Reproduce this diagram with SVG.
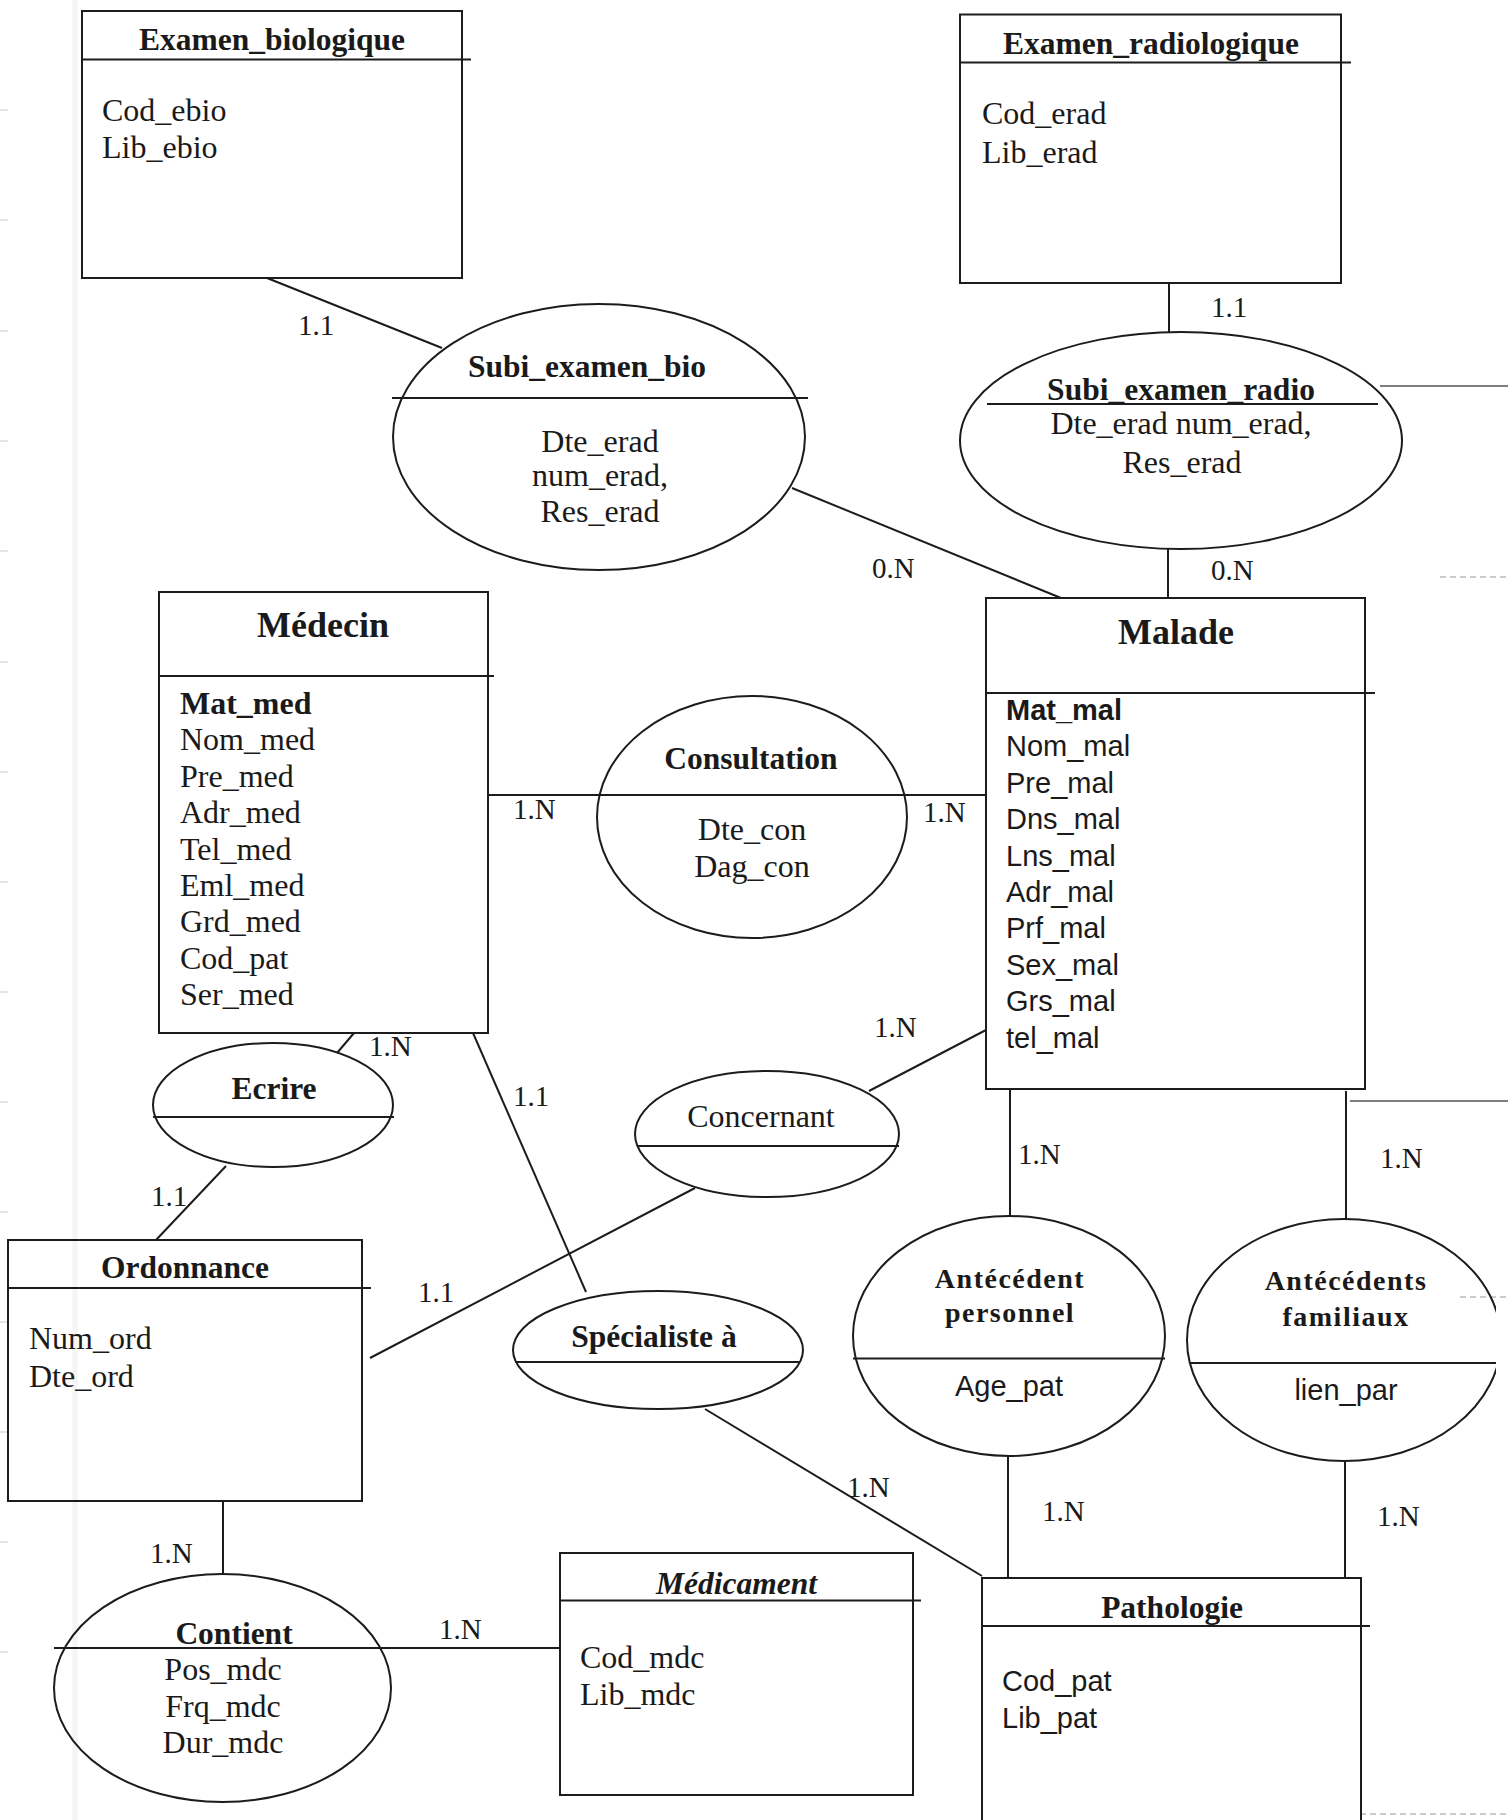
<svg xmlns="http://www.w3.org/2000/svg" width="1508" height="1820" viewBox="0 0 1508 1820">
  <defs>
    <clipPath id="clipRight">
      <rect x="0" y="0" width="1496" height="1820"/>
    </clipPath>
  </defs>
  <style>
    .shape { fill: none; stroke: #1c1c1c; stroke-width: 2; }
    .link { fill: none; stroke: #1c1c1c; stroke-width: 2; }
    .title { font-family: "Liberation Serif", "Times New Roman", serif; font-weight: bold; font-size: 31.5px; fill: #1a1a1a; text-anchor: middle; }
    .big { font-size: 36px; }
    .wide { font-size: 28px; letter-spacing: 1.5px; }
    .attr { font-family: "Liberation Serif", "Times New Roman", serif; font-size: 32px; fill: #1a1a1a; }
    .sans { font-family: "Liberation Sans", Arial, sans-serif; font-size: 29px; fill: #1a1a1a; }
    .mid { text-anchor: middle; }
    .key { font-weight: bold; }
    .card { font-family: "Liberation Serif", "Times New Roman", serif; font-size: 29px; fill: #1a1a1a; }
    .scan { stroke: #555; stroke-width: 1.5; fill: none; }
    .faint { stroke: #bbb; stroke-width: 1.5; stroke-dasharray: 6 4; fill: none; }
  </style>

  <rect x="0" y="0" width="1508" height="1820" fill="#ffffff"/>

  <!-- page edge marks -->
  <g id="page-marks">
    <line x1="75" y1="0" x2="75" y2="1820" stroke="#f6f3f3" stroke-width="5"/>
    <g stroke="#dcdcdc" stroke-width="1.5">
      <line x1="0" y1="110" x2="8" y2="110"/>
      <line x1="0" y1="220" x2="8" y2="220"/>
      <line x1="0" y1="331" x2="8" y2="331"/>
      <line x1="0" y1="441" x2="8" y2="441"/>
      <line x1="0" y1="551" x2="8" y2="551"/>
      <line x1="0" y1="662" x2="8" y2="662"/>
      <line x1="0" y1="772" x2="8" y2="772"/>
      <line x1="0" y1="882" x2="8" y2="882"/>
      <line x1="0" y1="992" x2="8" y2="992"/>
      <line x1="0" y1="1102" x2="8" y2="1102"/>
      <line x1="0" y1="1212" x2="8" y2="1212"/>
      <line x1="0" y1="1322" x2="8" y2="1322"/>
      <line x1="0" y1="1432" x2="8" y2="1432"/>
      <line x1="0" y1="1542" x2="8" y2="1542"/>
      <line x1="0" y1="1652" x2="8" y2="1652"/>
    </g>
    <line class="scan" x1="1380" y1="386" x2="1508" y2="386"/>
    <line class="scan" x1="1350" y1="1101" x2="1508" y2="1101"/>
    <line class="faint" x1="1440" y1="577" x2="1508" y2="577"/>
    <line class="faint" x1="1460" y1="1297" x2="1508" y2="1297"/>
    <line class="faint" x1="1360" y1="1814" x2="1508" y2="1814"/>
  </g>

  <!-- connectors and cardinalities -->
  <g id="connectors">
    <line class="link" x1="267" y1="278" x2="442" y2="348"/>
    <line class="link" x1="792" y1="488" x2="1061" y2="598"/>
    <line class="link" x1="1169" y1="283" x2="1169" y2="332"/>
    <line class="link" x1="1168" y1="549" x2="1168" y2="598"/>
    <line class="link" x1="488" y1="795" x2="986" y2="795"/>
    <line class="link" x1="869" y1="1091" x2="986" y2="1030"/>
    <line class="link" x1="695" y1="1188" x2="370" y2="1358"/>
    <line class="link" x1="354" y1="1033" x2="337" y2="1053"/>
    <line class="link" x1="226" y1="1166" x2="156" y2="1240"/>
    <line class="link" x1="473" y1="1033" x2="586" y2="1292"/>
    <line class="link" x1="705" y1="1409" x2="982" y2="1576"/>
    <line class="link" x1="223" y1="1501" x2="223" y2="1574"/>
    <line class="link" x1="54" y1="1648" x2="560" y2="1648"/>
    <line class="link" x1="1010" y1="1089" x2="1010" y2="1216"/>
    <line class="link" x1="1346" y1="1091" x2="1346" y2="1219"/>
    <line class="link" x1="1008" y1="1456" x2="1008" y2="1578"/>
    <line class="link" x1="1345" y1="1461" x2="1345" y2="1578"/>

    <text class="card" x="298" y="335">1.1</text>
    <text class="card" x="872" y="578">0.N</text>
    <text class="card" x="1211" y="317">1.1</text>
    <text class="card" x="1211" y="580">0.N</text>
    <text class="card" x="513" y="819">1.N</text>
    <text class="card" x="923" y="822">1.N</text>
    <text class="card" x="874" y="1037">1.N</text>
    <text class="card" x="418" y="1302">1.1</text>
    <text class="card" x="369" y="1056">1.N</text>
    <text class="card" x="151" y="1206">1.1</text>
    <text class="card" x="513" y="1106">1.1</text>
    <text class="card" x="847" y="1497">1.N</text>
    <text class="card" x="150" y="1563">1.N</text>
    <text class="card" x="439" y="1639">1.N</text>
    <text class="card" x="1018" y="1164">1.N</text>
    <text class="card" x="1380" y="1168">1.N</text>
    <text class="card" x="1042" y="1521">1.N</text>
    <text class="card" x="1377" y="1526">1.N</text>
  </g>

  <!-- entities -->
  <g id="examen-biologique">
    <rect class="shape" x="82" y="11" width="380" height="267"/>
    <line class="shape" x1="82" y1="59.5" x2="471" y2="59.5"/>
    <text class="title" x="272" y="50">Examen_biologique</text>
    <text class="attr" x="102" y="120.5">Cod_ebio</text>
    <text class="attr" x="102" y="157.7">Lib_ebio</text>
  </g>

  <g id="examen-radiologique">
    <rect class="shape" x="960" y="14.5" width="381" height="268.5"/>
    <line class="shape" x1="960" y1="62.5" x2="1351" y2="62.5"/>
    <text class="title" x="1151" y="53.5">Examen_radiologique</text>
    <text class="attr" x="982" y="124">Cod_erad</text>
    <text class="attr" x="982" y="162.6">Lib_erad</text>
  </g>

  <g id="medecin">
    <rect class="shape" x="159" y="592" width="329" height="441"/>
    <line class="shape" x1="159" y1="676" x2="494" y2="676"/>
    <text class="title big" x="323" y="637">Médecin</text>
    <text class="attr key" x="180" y="714">Mat_med</text>
    <text class="attr" x="180" y="750.4">Nom_med</text>
    <text class="attr" x="180" y="786.8">Pre_med</text>
    <text class="attr" x="180" y="823.2">Adr_med</text>
    <text class="attr" x="180" y="859.6">Tel_med</text>
    <text class="attr" x="180" y="896">Eml_med</text>
    <text class="attr" x="180" y="932.4">Grd_med</text>
    <text class="attr" x="180" y="968.8">Cod_pat</text>
    <text class="attr" x="180" y="1005.2">Ser_med</text>
  </g>

  <g id="malade">
    <rect class="shape" x="986" y="598" width="379" height="491"/>
    <line class="shape" x1="986" y1="693" x2="1375" y2="693"/>
    <text class="title big" x="1176" y="644">Malade</text>
    <text class="sans key" x="1006" y="720">Mat_mal</text>
    <text class="sans" x="1006" y="756.4">Nom_mal</text>
    <text class="sans" x="1006" y="792.8">Pre_mal</text>
    <text class="sans" x="1006" y="829.2">Dns_mal</text>
    <text class="sans" x="1006" y="865.6">Lns_mal</text>
    <text class="sans" x="1006" y="902">Adr_mal</text>
    <text class="sans" x="1006" y="938.4">Prf_mal</text>
    <text class="sans" x="1006" y="974.8">Sex_mal</text>
    <text class="sans" x="1006" y="1011.2">Grs_mal</text>
    <text class="sans" x="1006" y="1047.6">tel_mal</text>
  </g>

  <g id="ordonnance">
    <rect class="shape" x="8" y="1240" width="354" height="261"/>
    <line class="shape" x1="8" y1="1288" x2="371" y2="1288"/>
    <text class="title" x="185" y="1278">Ordonnance</text>
    <text class="attr" x="29" y="1349">Num_ord</text>
    <text class="attr" x="29" y="1386.7">Dte_ord</text>
  </g>

  <g id="medicament">
    <rect class="shape" x="560" y="1553" width="353" height="242"/>
    <line class="shape" x1="560" y1="1600.5" x2="921" y2="1600.5"/>
    <text class="title" x="736.5" y="1593.5" font-style="italic">Médicament</text>
    <text class="attr" x="580" y="1667.5">Cod_mdc</text>
    <text class="attr" x="580" y="1705">Lib_mdc</text>
  </g>

  <g id="pathologie">
    <rect class="shape" x="982" y="1578" width="379" height="270"/>
    <line class="shape" x1="982" y1="1626" x2="1370" y2="1626"/>
    <text class="title" x="1172" y="1618">Pathologie</text>
    <text class="sans" x="1002" y="1691">Cod_pat</text>
    <text class="sans" x="1002" y="1727.5">Lib_pat</text>
  </g>

  <!-- associations -->
  <g id="subi-examen-bio">
    <ellipse class="shape" cx="599" cy="437" rx="206" ry="133"/>
    <line class="shape" x1="392" y1="398" x2="808" y2="398"/>
    <text class="title" x="587" y="377">Subi_examen_bio</text>
    <text class="attr mid" x="600" y="451.6">Dte_erad</text>
    <text class="attr mid" x="600" y="486">num_erad,</text>
    <text class="attr mid" x="600" y="522">Res_erad</text>
  </g>

  <g id="subi-examen-radio">
    <ellipse class="shape" cx="1181" cy="440.5" rx="221" ry="108.5"/>
    <line class="shape" x1="987" y1="404" x2="1378" y2="404"/>
    <text class="title" x="1181" y="400">Subi_examen_radio</text>
    <text class="attr mid" x="1181" y="434">Dte_erad num_erad,</text>
    <text class="attr mid" x="1182" y="472.6">Res_erad</text>
  </g>

  <g id="consultation">
    <ellipse class="shape" cx="752" cy="817" rx="155" ry="121"/>
    <text class="title" x="751" y="769">Consultation</text>
    <text class="attr mid" x="752" y="840">Dte_con</text>
    <text class="attr mid" x="752" y="877">Dag_con</text>
  </g>

  <g id="ecrire">
    <ellipse class="shape" cx="273" cy="1105" rx="120" ry="62"/>
    <line class="shape" x1="153" y1="1117" x2="394" y2="1117"/>
    <text class="title" x="274" y="1099">Ecrire</text>
  </g>

  <g id="concernant">
    <ellipse class="shape" cx="767" cy="1134" rx="132" ry="63"/>
    <line class="shape" x1="638" y1="1146" x2="899" y2="1146"/>
    <text class="attr mid" x="761" y="1127">Concernant</text>
  </g>

  <g id="specialiste">
    <ellipse class="shape" cx="658" cy="1350" rx="145" ry="59"/>
    <line class="shape" x1="515" y1="1362" x2="800" y2="1362"/>
    <text class="title" x="654" y="1347">Spécialiste à</text>
  </g>

  <g id="contient">
    <ellipse class="shape" cx="222.5" cy="1688" rx="168.5" ry="114"/>
    <text class="title" x="234" y="1644">Contient</text>
    <text class="attr mid" x="223" y="1680">Pos_mdc</text>
    <text class="attr mid" x="223" y="1717">Frq_mdc</text>
    <text class="attr mid" x="223" y="1752.5">Dur_mdc</text>
  </g>

  <g id="antecedent-personnel">
    <ellipse class="shape" cx="1009" cy="1336" rx="156" ry="120"/>
    <line class="shape" x1="853" y1="1358.5" x2="1165" y2="1358.5"/>
    <text class="title wide" x="1010" y="1288">Antécédent</text>
    <text class="title wide" x="1010" y="1322">personnel</text>
    <text class="sans mid" x="1009" y="1396">Age_pat</text>
  </g>

  <g id="antecedents-familiaux">
    <g clip-path="url(#clipRight)">
      <ellipse class="shape" cx="1344" cy="1340" rx="157" ry="121"/>
      <line class="shape" x1="1189" y1="1363" x2="1496" y2="1363"/>
    </g>
    <text class="title wide" x="1346" y="1290">Antécédents</text>
    <text class="title wide" x="1346" y="1325.5">familiaux</text>
    <text class="sans mid" x="1346" y="1400">lien_par</text>
  </g>
</svg>
